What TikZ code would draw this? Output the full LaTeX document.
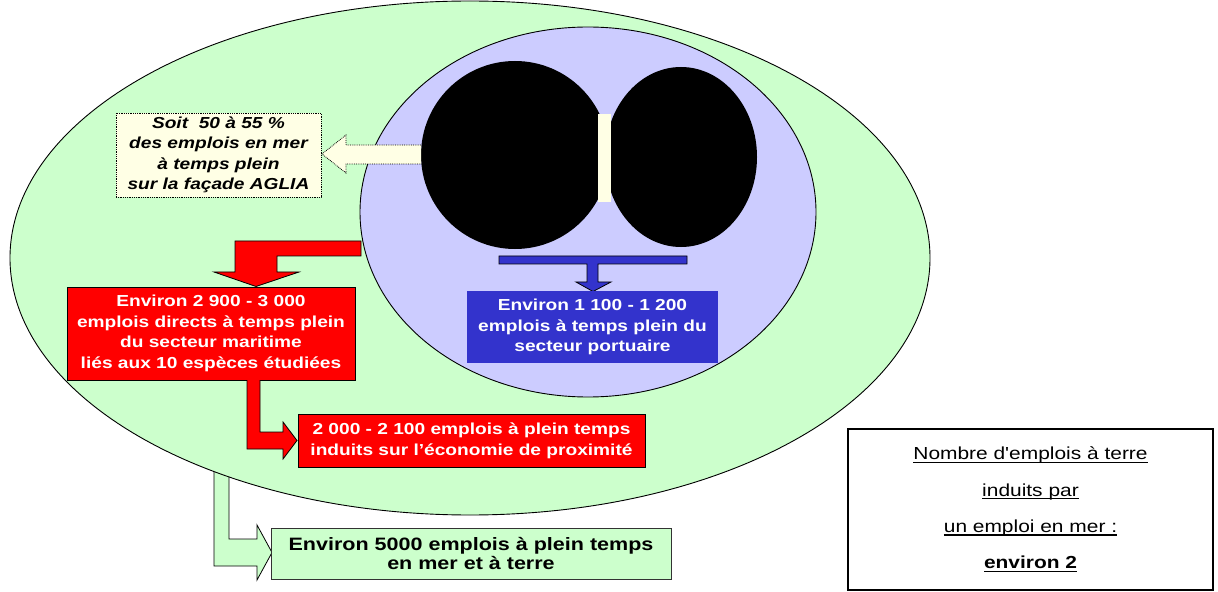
\documentclass[tikz,border=0pt]{standalone}
\usepackage{fontspec}
\setmainfont{Liberation Sans}[FakeStretch=1.2, Ligatures=TeXOff]
\definecolor{bggreen}{HTML}{CCFFCC}
\definecolor{bgblue}{HTML}{CCCCFF}
\definecolor{boxblue}{HTML}{3333CC}
\definecolor{cream}{HTML}{FFFFE5}
\newsavebox{\myulbox}
\newcommand\myul[1]{\sbox{\myulbox}{#1}\rlap{\rule[-3.2bp]{\wd\myulbox}{1.3bp}}\usebox{\myulbox}}
\begin{document}
\begin{tikzpicture}[x=1bp,y=-1bp,
  boxbase/.style={inner sep=0pt, align=center, rectangle},
  redbox/.style={boxbase, draw=black, line width=0.8bp, fill=red, text=white, font=\bfseries\fontsize{16}{20.7}\selectfont},
  bluebox/.style={boxbase, fill=boxblue, text=white, font=\bfseries\fontsize{16}{20.5}\selectfont},
  greenbox/.style={boxbase, draw=black!80, line width=0.8bp, fill=bggreen, font=\bfseries\fontsize{18}{20}\selectfont},
  creambox/.style={boxbase, draw=black, densely dotted, line width=0.8bp, fill=cream, font=\bfseries\itshape\fontsize{16}{20.5}\selectfont},
  notebox/.style={boxbase, draw=black, line width=1.6bp, font=\fontsize{17.5}{36.5}\selectfont},
  blockarrow/.style={draw=black, line width=0.8bp, line join=miter},
]
\useasboundingbox (0,0) rectangle (1218,592);
% green L arrow (under the ellipse)
\draw[blockarrow, fill=bggreen] (214,460) -- (214,566) -- (257,566) -- (257,580) -- (272,552.5) -- (257,525) -- (257,539) -- (229,539) -- (229,460) -- cycle;
% ellipses
\draw[line width=0.9bp, fill=bggreen] (470,258) ellipse [x radius=460bp, y radius=257bp];
\draw[line width=0.9bp, fill=bgblue] (588,212) ellipse [x radius=228bp, y radius=185bp];
% black shapes
\fill[black] (515,155) circle [radius=94bp];
\fill[black] (681,157) ellipse [x radius=76bp, y radius=90bp];
\fill[cream] (598,114) rectangle (611,202);
% cream arrow
\draw[blockarrow, densely dotted, fill=cream] (421,145) -- (346,145) -- (346,135) -- (322,154) -- (346,173) -- (346,164) -- (421,164);
\node[creambox, minimum width=205bp, minimum height=84bp] (soit) at (218.5,155) {Soit\ \ 50 à 55 \%\\des emplois en mer\\à temps plein\\sur la façade AGLIA};
% red arrow
\draw[blockarrow, fill=red] (361,241) -- (235,241) -- (235,272) -- (214,272) -- (256,286.5) -- (299,272) -- (277,272) -- (277,256) -- (361,256) -- cycle;
\node[redbox, minimum width=288bp, minimum height=93bp] (direct) at (211,333.5) {Environ 2 900 - 3 000\\emplois directs à temps plein\\du secteur maritime\\liés aux 10 espèces étudiées};
% red L arrow
\draw[blockarrow, fill=red] (247,380) -- (247,449) -- (283,449) -- (283,459) -- (297,440.5) -- (283,422) -- (283,432) -- (260,432) -- (260,380);
\node[redbox, minimum width=347bp, minimum height=53bp] (induits) at (471.5,440.5) {2 000 - 2 100 emplois à plein temps\\induits sur l’économie de proximité};
% blue T arrow
\draw[blockarrow, fill=boxblue] (499,256) -- (687,256) -- (687,264) -- (598,264) -- (598,282) -- (611,282) -- (593,291.5) -- (576,282) -- (587,282) -- (587,264) -- (499,264) -- cycle;
\node[bluebox, minimum width=251bp, minimum height=72bp] (port) at (592.5,327) {Environ 1 100 - 1 200\\emplois à temps plein du\\secteur portuaire};
% green box
\node[greenbox, minimum width=400bp, minimum height=51bp] (total) at (471,553.5) {Environ 5000 emplois à plein temps\\en mer et à terre};
% note box
\node[notebox, minimum width=365bp, minimum height=161bp] (note) at (1030.5,509.5) {\myul{Nombre d'emplois à terre}\\\myul{induits par}\\\myul{un emploi en mer :}\\\myul{\bfseries environ 2}};
\end{tikzpicture}
\end{document}
